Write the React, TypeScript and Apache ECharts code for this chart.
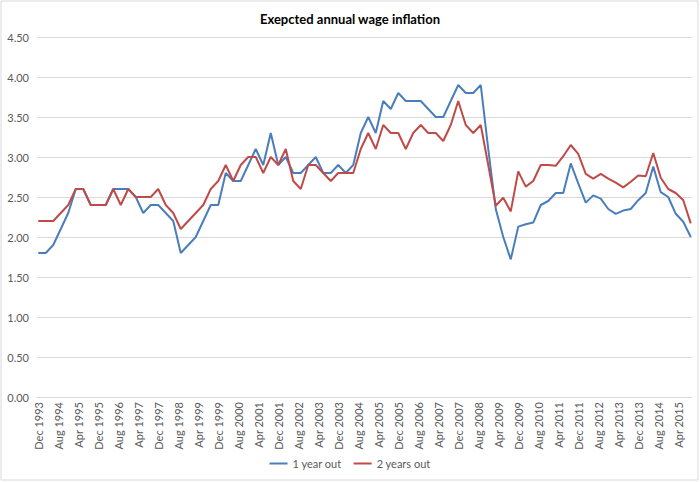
import * as echarts from 'echarts';
import React, { useEffect, useRef } from 'react';

// quarterly survey values, Dec 1993 .. Sep 2015
const oneYearOut = [
  1.8, 1.8, 1.9, 2.1, 2.3, 2.6, 2.6, 2.4, 2.4, 2.4, 2.6, 2.6, 2.6, 2.5, 2.3, 2.4,
  2.4, 2.3, 2.2, 1.8, 1.9, 2.0, 2.2, 2.4, 2.4, 2.8, 2.7, 2.7, 2.9, 3.1, 2.9, 3.3,
  2.9, 3.0, 2.8, 2.8, 2.9, 3.0, 2.8, 2.8, 2.9, 2.8, 2.9, 3.3, 3.5, 3.3, 3.7, 3.6,
  3.8, 3.7, 3.7, 3.7, 3.6, 3.5, 3.5, 3.7, 3.9, 3.8, 3.8, 3.9, 3.1, 2.35, 2.0, 1.72,
  2.13, 2.16, 2.18, 2.4, 2.45, 2.55, 2.55, 2.92, 2.67, 2.43, 2.52, 2.48, 2.35, 2.29, 2.33, 2.35,
  2.46, 2.55, 2.88, 2.56, 2.5, 2.29, 2.19, 2.0,
];

const twoYearsOut = [
  2.2, 2.2, 2.2, 2.3, 2.4, 2.6, 2.6, 2.4, 2.4, 2.4, 2.6, 2.4, 2.6, 2.5, 2.5, 2.5,
  2.6, 2.4, 2.3, 2.1, 2.2, 2.3, 2.4, 2.6, 2.7, 2.9, 2.7, 2.9, 3.0, 3.0, 2.8, 3.0,
  2.9, 3.1, 2.7, 2.6, 2.9, 2.9, 2.8, 2.7, 2.8, 2.8, 2.8, 3.1, 3.3, 3.1, 3.4, 3.3,
  3.3, 3.1, 3.3, 3.4, 3.3, 3.3, 3.2, 3.4, 3.7, 3.4, 3.3, 3.4, 2.9, 2.39, 2.49, 2.32,
  2.82, 2.63, 2.7, 2.9, 2.9, 2.89, 3.01, 3.15, 3.04, 2.79, 2.73, 2.79, 2.73, 2.68, 2.62, 2.69,
  2.77, 2.76, 3.05, 2.74, 2.6, 2.55, 2.46, 2.17,
];

const monthNames = ['Jan', 'Feb', 'Mar', 'Apr', 'May', 'Jun', 'Jul', 'Aug', 'Sep', 'Oct', 'Nov', 'Dec'];
const firstYear = 1993;
const firstMonth = 11; // December
const monthsPerPoint = 3;

// monthly category axis so labels can fall every 8 months like the original date axis
const months: string[] = [];
for (let i = 0; i <= (oneYearOut.length - 1) * monthsPerPoint; i++) {
  const m = firstMonth + i;
  months.push(monthNames[m % 12] + ' ' + (firstYear + Math.floor(m / 12)));
}

const toMonthly = (values: number[]) =>
  months.map((_, i) => (i % monthsPerPoint === 0 ? values[i / monthsPerPoint] : null));

const font = 'Lato, "Open Sans", sans-serif';

const App: React.FC = () => {
  const chartRef = useRef<HTMLDivElement>(null);

  useEffect(() => {
    if (!chartRef.current) return;
    const chart = echarts.init(chartRef.current, undefined, { renderer: 'svg' });

    const option: echarts.EChartsOption = {
      animation: false,
      backgroundColor: '#fff',
      textStyle: { fontFamily: font },
      title: {
        text: 'Exepcted annual wage inflation',
        left: 'center',
        top: 7,
        textStyle: { color: '#000', fontSize: 13, fontWeight: 'bold', fontFamily: font },
      },
      graphic: [
        {
          type: 'rect',
          shape: { x: 1, y: 1, width: 697, height: 479 },
          style: { fill: 'none', stroke: '#d9d9d9', lineWidth: 1 },
          silent: true,
        },
      ],
      legend: {
        bottom: 8,
        left: 'center',
        icon: 'rect',
        itemWidth: 18,
        itemHeight: 2,
        itemGap: 12,
        textStyle: { color: '#595959', fontSize: 11, fontFamily: font },
        data: ['1 year out', '2 years out'],
      },
      grid: { left: 37, right: 8, top: 37, bottom: 85 },
      xAxis: {
        type: 'category',
        data: months,
        boundaryGap: true,
        axisLine: { lineStyle: { color: '#d9d9d9', width: 1 } },
        axisTick: { show: false },
        axisLabel: {
          interval: 7,
          rotate: 90,
          color: '#595959',
          fontSize: 11,
          fontFamily: font,
          margin: 5,
        },
      },
      yAxis: {
        type: 'value',
        min: 0,
        max: 4.5,
        interval: 0.5,
        axisLine: { show: false },
        axisTick: { show: false },
        splitLine: { lineStyle: { color: '#d9d9d9', width: 1 } },
        axisLabel: {
          color: '#595959',
          fontSize: 11,
          fontFamily: font,
          margin: 8,
          formatter: (v: number) => v.toFixed(2),
        },
      },
      series: [
        {
          name: '1 year out',
          type: 'line',
          data: toMonthly(oneYearOut),
          connectNulls: true,
          showSymbol: false,
          symbol: 'none',
          lineStyle: { color: '#4a7ebb', width: 2 },
          itemStyle: { color: '#4a7ebb' },
        },
        {
          name: '2 years out',
          type: 'line',
          data: toMonthly(twoYearsOut),
          connectNulls: true,
          showSymbol: false,
          symbol: 'none',
          lineStyle: { color: '#be4b48', width: 2 },
          itemStyle: { color: '#be4b48' },
        },
      ],
    };

    chart.setOption(option);

    return () => {
      chart.dispose();
    };
  }, []);

  return (
    <div
      ref={chartRef}
      style={{ position: 'absolute', left: 0, top: 0, width: '700px', height: '482px' }}
    />
  );
};

export default App;
